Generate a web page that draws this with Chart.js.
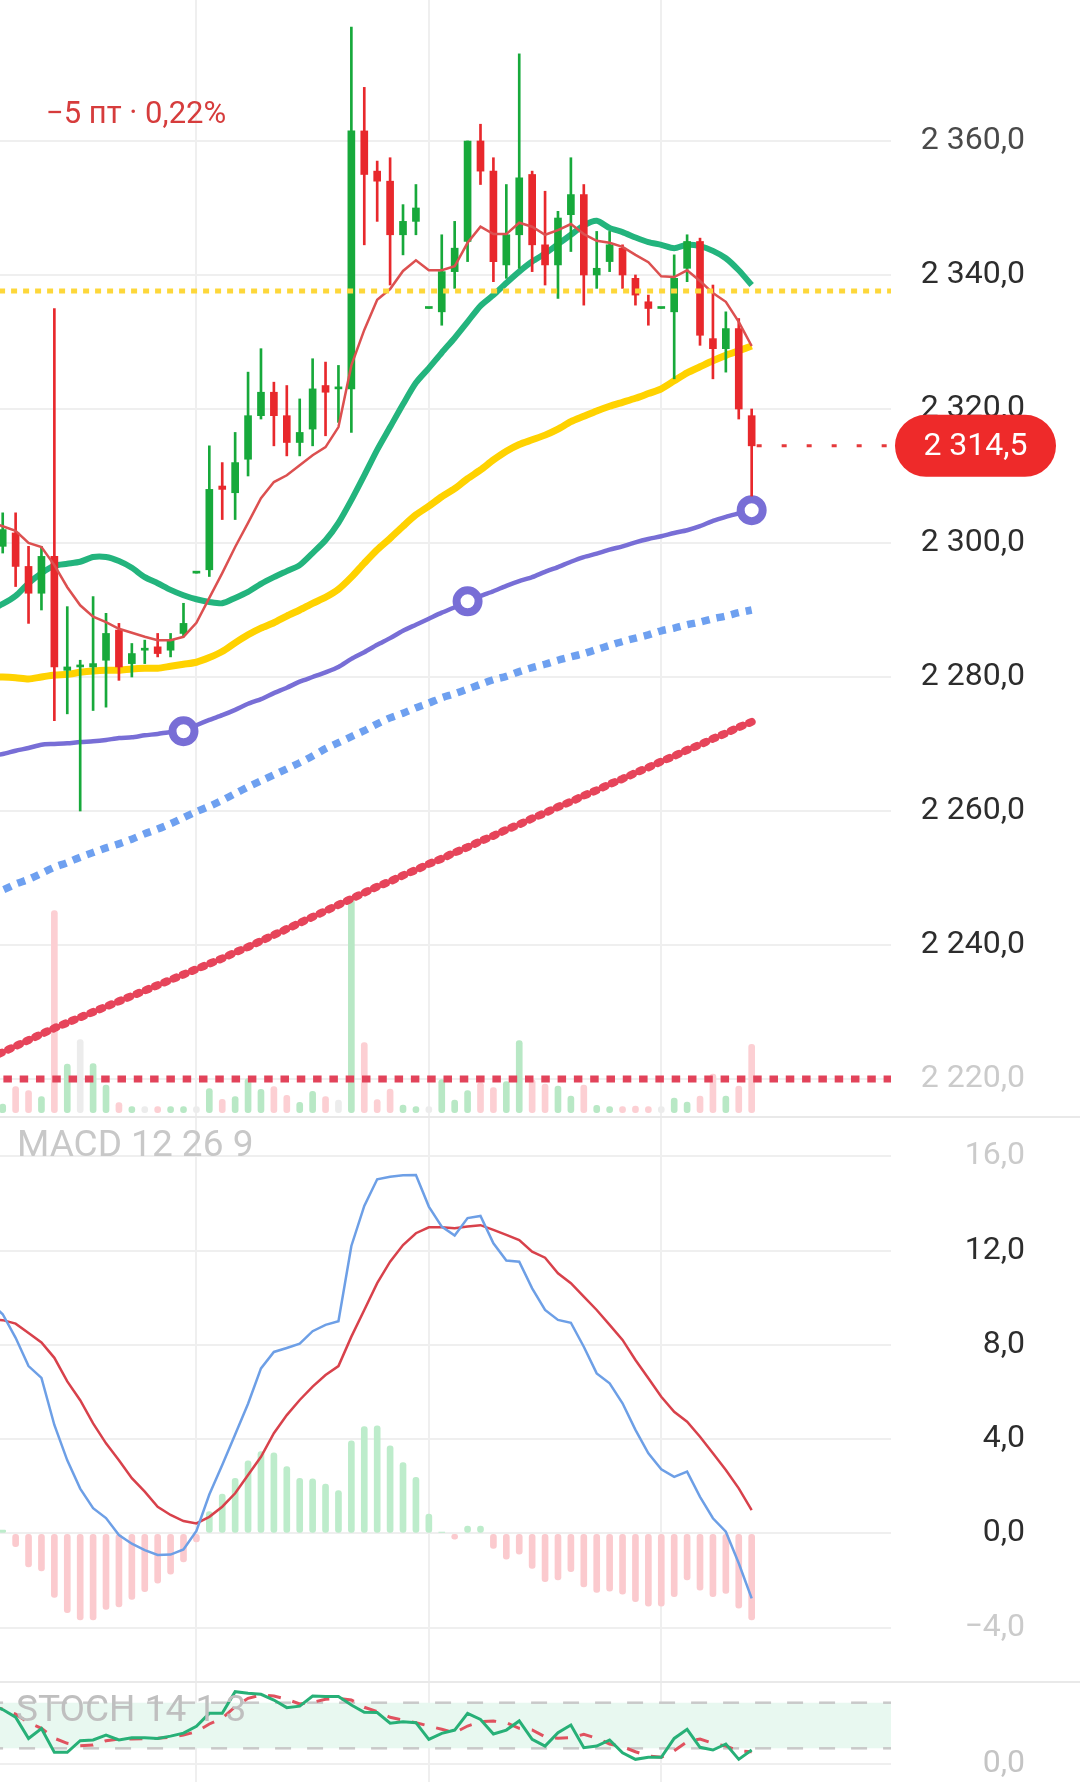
<!DOCTYPE html>
<html lang="ru">
<head>
<meta charset="utf-8">
<title>Фьючерс — свечи, MACD, STOCH</title>
<script src="https://cdn.jsdelivr.net/npm/chart.js@4.4.1/dist/chart.umd.min.js"></script>
<style>
  html, body { margin: 0; padding: 0; background: #fff; }
  body { position: relative; width: 1080px; height: 1782px; overflow: hidden; font-family: Roboto, sans-serif; }
  .pane { position: absolute; left: 0; width: 1080px; }
  .sep { position: absolute; left: 0; width: 1080px; height: 2px; background: #e9e9e9; }
  .tag { position: absolute; white-space: nowrap; pointer-events: none; }
</style>
</head>
<body>
<div class="pane" style="top:0;height:1117px"><canvas id="priceChart"></canvas></div>
<div class="sep" style="top:1116px"></div>
<div class="pane" style="top:1118px;height:564px"><canvas id="macdChart"></canvas></div>
<div class="sep" style="top:1681px"></div>
<div class="pane" style="top:1683px;height:99px"><canvas id="stochChart"></canvas></div>

<div class="tag" style="left:46px;top:94px;font-size:31px;line-height:38px;color:#d63c3c">−5 пт · 0,22%</div>
<div class="tag" style="left:17px;top:1124px;font-size:37px;line-height:40px;color:#c8c8c8">MACD 12 26 9</div>
<div class="tag" style="left:16px;top:1689px;font-size:37px;line-height:40px;color:#bfbfbf">STOCH 14 1 3</div>

<script>
// ---- candles, index 0 = first bar at the left edge
const opens  = [2299.5, 2301.5, 2296.5, 2292.5, 2298.0, 2281.0, 2281.5, 2281.5, 2282.5, 2287.0,
                2282.0, 2284.0, 2284.5, 2284.0, 2286.5, 2295.5, 2296.0, 2308.5, 2307.5, 2312.5,
                2319.0, 2322.5, 2319.0, 2315.0, 2317.0, 2323.5, 2323.0, 2323.0, 2361.5, 2355.5,
                2354.0, 2346.0, 2348.0, 2335.0, 2334.5, 2340.5, 2345.0, 2360.0, 2355.5, 2341.5,
                2346.0, 2355.0, 2344.5, 2341.5, 2349.0, 2352.0, 2340.0, 2342.0, 2344.0, 2339.5,
                2336.0, 2335.0, 2334.5, 2341.0, 2345.0, 2330.5, 2329.0, 2332.0, 2319.0];
const highs  = [2304.5, 2304.5, 2299.5, 2299.5, 2335.0, 2290.5, 2282.5, 2292.0, 2289.5, 2288.0,
                2285.0, 2285.5, 2286.5, 2286.5, 2291.0, 2295.5, 2314.5, 2312.0, 2316.5, 2325.5,
                2329.0, 2324.0, 2323.5, 2321.5, 2327.5, 2327.0, 2326.5, 2377.0, 2368.0, 2357.0,
                2357.5, 2350.5, 2353.5, 2335.0, 2346.0, 2348.0, 2360.0, 2362.5, 2357.5, 2353.5,
                2373.0, 2355.5, 2352.5, 2349.5, 2357.5, 2353.5, 2346.5, 2346.5, 2344.5, 2340.0,
                2337.0, 2335.0, 2343.0, 2346.0, 2345.5, 2338.5, 2334.5, 2333.5, 2320.0];
const lows   = [2298.5, 2293.5, 2288.0, 2290.0, 2273.5, 2274.5, 2260.0, 2275.0, 2275.5, 2279.5,
                2280.0, 2282.0, 2283.0, 2283.0, 2286.0, 2295.5, 2295.0, 2303.5, 2303.5, 2310.0,
                2318.5, 2314.5, 2313.0, 2313.0, 2314.5, 2316.0, 2318.0, 2316.5, 2344.5, 2348.0,
                2338.5, 2343.0, 2346.0, 2335.0, 2332.5, 2338.0, 2342.0, 2353.5, 2339.0, 2339.5,
                2341.0, 2340.5, 2338.5, 2336.5, 2343.5, 2335.5, 2338.0, 2340.5, 2338.0, 2335.5,
                2332.5, 2335.0, 2324.5, 2339.0, 2329.5, 2324.5, 2325.5, 2318.5, 2307.0];
const closes = [2302.0, 2296.5, 2292.5, 2298.0, 2281.5, 2281.5, 2281.5, 2282.0, 2286.5, 2281.5,
                2283.5, 2284.0, 2283.5, 2285.5, 2288.0, 2295.5, 2308.0, 2308.0, 2312.0, 2319.0,
                2322.5, 2319.0, 2315.0, 2316.5, 2323.0, 2322.5, 2323.0, 2361.5, 2355.0, 2354.0,
                2346.0, 2348.0, 2350.0, 2335.0, 2340.5, 2344.0, 2360.0, 2355.5, 2342.0, 2346.0,
                2354.5, 2344.5, 2341.5, 2348.5, 2352.0, 2340.0, 2341.0, 2344.5, 2340.0, 2337.0,
                2335.0, 2335.0, 2339.5, 2345.0, 2331.0, 2329.0, 2332.0, 2320.0, 2314.5];
const volumes = [4.3, 13, 11, 8, 101, 24.3, 36.5, 24.5, 13.8, 5,
                 2.5, 2, 1.6, 1.6, 2.5, 0.3, 12, 6.7, 8, 17,
                 11.7, 13, 8.7, 5.2, 10.7, 8, 6.3, 106.8, 35, 6.5,
                 11.8, 3.8, 2.8, 0.5, 16.5, 6.3, 11, 15, 12.5, 15.5,
                 36, 16.5, 14.3, 13.3, 8.3, 13.8, 3.7, 2, 1.7, 3.3,
                 2, 0.3, 7.3, 5.3, 8.3, 19.3, 8.3, 13.3, 34.2];

// ---- moving averages; first value belongs to the bar just off the left edge (index -1)
const maFast = [2303.1, 2302.5, 2301.8, 2300.0, 2299.4, 2296.7, 2293.4, 2290.7, 2289.0, 2288.2, 2287.2,
                2286.6, 2286.0, 2285.5, 2285.5, 2286.0, 2288.1, 2291.8, 2295.5, 2299.4, 2303.0,
                2306.7, 2309.1, 2310.1, 2311.6, 2313.1, 2314.3, 2317.3, 2326.5, 2331.8, 2336.3,
                2337.9, 2340.6, 2342.2, 2340.7, 2340.7, 2341.3, 2344.8, 2347.2, 2346.1, 2346.1,
                2347.8, 2347.2, 2346.0, 2346.7, 2347.6, 2346.1, 2345.1, 2344.8, 2344.2, 2343.0,
                2341.9, 2339.8, 2339.7, 2340.7, 2339.1, 2337.3, 2336.0, 2333.0, 2329.4];
const maGreen = [2290.0, 2290.9, 2292.1, 2294.0, 2295.5, 2296.6, 2296.9, 2297.2, 2297.9, 2297.9, 2297.3,
                 2296.3, 2294.9, 2294.0, 2293.0, 2292.2, 2291.6, 2291.2, 2291.0, 2291.8, 2292.7,
                 2293.9, 2294.9, 2295.8, 2296.7, 2298.5, 2300.4, 2303.0, 2306.4, 2310.1, 2313.9,
                 2317.3, 2320.7, 2323.9, 2326.1, 2328.4, 2330.6, 2333.0, 2335.4, 2337.0, 2338.8,
                 2340.5, 2342.0, 2343.2, 2344.6, 2346.0, 2347.4, 2348.1, 2347.0, 2346.4, 2345.6,
                 2344.9, 2344.5, 2344.0, 2344.5, 2344.3, 2343.6, 2342.5, 2340.7, 2338.5];
const maYellow = [2280.0, 2280.0, 2279.9, 2279.7, 2280.0, 2280.3, 2280.4, 2280.7, 2280.9, 2281.0, 2281.0,
                  2281.2, 2281.3, 2281.3, 2281.6, 2281.9, 2282.2, 2282.9, 2283.8, 2285.1, 2286.3,
                  2287.3, 2288.1, 2289.1, 2290.0, 2291.0, 2291.9, 2293.1, 2294.9, 2297.0, 2299.0,
                  2300.7, 2302.5, 2304.2, 2305.5, 2306.9, 2308.1, 2309.6, 2310.9, 2312.4, 2313.7,
                  2314.7, 2315.4, 2316.1, 2317.0, 2318.1, 2318.9, 2319.7, 2320.4, 2321.0, 2321.6,
                  2322.3, 2323.0, 2324.2, 2325.4, 2326.3, 2327.2, 2328.0, 2328.7, 2329.4];
const maPurple = [2268.2, 2268.5, 2269.0, 2269.4, 2269.9, 2270.0, 2270.1, 2270.3, 2270.4, 2270.6, 2270.9,
                  2271.0, 2271.3, 2271.5, 2271.8, 2271.9, 2272.8, 2273.6, 2274.3, 2275.1, 2276.0,
                  2276.7, 2277.6, 2278.4, 2279.3, 2280.0, 2280.7, 2281.5, 2282.7, 2283.7, 2284.8,
                  2285.8, 2286.9, 2287.8, 2288.7, 2289.6, 2290.4, 2291.3, 2292.1, 2292.8, 2293.6,
                  2294.3, 2294.9, 2295.7, 2296.4, 2297.2, 2297.9, 2298.4, 2299.0, 2299.5, 2300.1,
                  2300.6, 2301.0, 2301.5, 2301.9, 2302.5, 2303.3, 2303.9, 2304.4, 2304.9];
const purpleMarks = [14, 36, 58];
const maBlue = [2247.5, 2248.2, 2249.1, 2249.8, 2250.7, 2251.6, 2252.3, 2253.1, 2253.8, 2254.5, 2255.1,
                2255.8, 2256.6, 2257.3, 2258.1, 2259.0, 2259.9, 2260.7, 2261.6, 2262.6, 2263.6,
                2264.5, 2265.4, 2266.3, 2267.2, 2268.2, 2269.3, 2270.2, 2271.1, 2272.0, 2273.0,
                2273.9, 2274.6, 2275.4, 2276.1, 2276.9, 2277.5, 2278.2, 2278.9, 2279.6, 2280.1,
                2280.8, 2281.4, 2281.9, 2282.5, 2283.0, 2283.5, 2284.1, 2284.7, 2285.3, 2285.8,
                2286.3, 2286.9, 2287.3, 2287.8, 2288.2, 2288.7, 2289.1, 2289.6, 2290.0];
const maRed = [2223.2, 2224.0, 2224.9, 2225.8, 2226.7, 2227.6, 2228.4, 2229.2, 2230.0, 2230.8, 2231.6,
               2232.4, 2233.2, 2234.0, 2234.8, 2235.6, 2236.4, 2237.2, 2238.0, 2238.9, 2239.7,
               2240.6, 2241.5, 2242.4, 2243.3, 2244.2, 2245.1, 2246.0, 2246.9, 2247.8, 2248.7,
               2249.5, 2250.4, 2251.2, 2252.1, 2252.9, 2253.8, 2254.6, 2255.5, 2256.3, 2257.2,
               2258.0, 2258.9, 2259.7, 2260.6, 2261.4, 2262.3, 2263.1, 2264.0, 2264.8, 2265.7,
               2266.5, 2267.4, 2268.2, 2269.1, 2269.9, 2270.8, 2271.6, 2272.5, 2273.3];

const levelYellow = 2337.6;
const levelRed = 2220.0;
const priceTicks = [2220, 2240, 2260, 2280, 2300, 2320, 2340, 2360];
const priceRange = [2214.33, 2381.04];
const volRange = [-2.15, 556.35];

// ---- MACD 12 26 9 (lines start at index -1, histogram at index 0)
const macdLine = [9.8, 9.3, 8.3, 7.1, 6.6, 4.6, 3.1, 1.9, 1.07, 0.65, -0.07,
                  -0.44, -0.71, -0.92, -0.9, -0.68, 0.1, 1.65, 2.9, 4.2, 5.5,
                  7.0, 7.7, 7.87, 8.05, 8.58, 8.85, 9.0, 12.2, 13.9, 15.03,
                  15.14, 15.2, 15.21, 13.87, 13.02, 12.64, 13.38, 13.47, 12.31, 11.58,
                  11.53, 10.4, 9.48, 9.06, 8.94, 7.92, 6.79, 6.37, 5.52, 4.39,
                  3.4, 2.72, 2.4, 2.62, 1.55, 0.64, 0.07, -1.27, -2.76];
const signalLine = [9.1, 9.05, 8.9, 8.5, 8.1, 7.45, 6.45, 5.65, 4.67, 3.82, 3.1,
                    2.34, 1.77, 1.13, 0.78, 0.52, 0.42, 0.7, 1.13, 1.7, 2.48,
                    3.25, 4.25, 5.02, 5.66, 6.23, 6.72, 7.1, 8.35, 9.48, 10.62,
                    11.53, 12.24, 12.74, 12.99, 12.99, 12.95, 13.02, 13.08, 12.88, 12.67,
                    12.45, 11.96, 11.7, 11.04, 10.62, 10.05, 9.48, 8.85, 8.21, 7.36,
                    6.58, 5.8, 5.16, 4.74, 4.1, 3.4, 2.69, 1.91, 0.99];
const macdHist = [0.14, -0.57, -1.42, -1.59, -2.72, -3.37, -3.68, -3.68, -3.23, -3.12,
                  -2.80, -2.48, -2.12, -1.73, -1.21, -0.36, 0.92, 1.67, 2.34, 3.08,
                  3.47, 3.42, 2.83, 2.34, 2.31, 2.09, 1.81, 3.93, 4.53, 4.56,
                  3.71, 3.00, 2.38, 0.82, 0.05, -0.25, 0.31, 0.31, -0.64, -1.10,
                  -0.88, -1.49, -2.05, -1.98, -1.63, -2.27, -2.51, -2.45, -2.58, -2.90,
                  -3.09, -3.09, -2.69, -1.98, -2.41, -2.69, -2.55, -3.18, -3.68];
const macdTicks = [-4, 0, 4, 8, 12, 16];
const macdRange = [-6.31, 17.63];

// ---- STOCH 14 1 3 (start at index -1)
const stochK = [78, 71, 61, 33, 46, 14.7, 14.7, 30, 31, 37.5, 31,
                34, 34, 33, 36, 40, 49, 66, 66, 94.5, 92.5,
                91, 83.5, 73.5, 75.5, 88.8, 88, 88, 77, 67.5, 67,
                53, 55, 53.7, 31.8, 39.7, 44, 66, 58, 38.8, 44,
                56, 31.8, 23, 40.5, 50.7, 20.8, 23, 31, 14.2, 5.5,
                8.2, 8.2, 33, 45, 21.3, 17.8, 25.7, 5.5, 17.8];
const stochD = [75, 71.7, 65.1, 53.7, 46.3, 33.2, 26.6, 23.4, 24.3, 30, 32.2,
                32.2, 32.6, 33.2, 34.5, 37.5, 41.8, 52, 59.5, 74.7, 85.8,
                90.1, 88.8, 84.5, 78.3, 80.5, 84.5, 85.8, 83.6, 74, 68.2,
                60.8, 57.2, 53.7, 49.3, 45, 40.5, 49.3, 55, 55.9, 53.7,
                46.3, 44.1, 35.3, 33.2, 33.9, 38.4, 33.2, 25.7, 22.1, 15.5,
                9.9, 8.2, 16.8, 28.7, 32.2, 26.6, 23, 16.8, 15.5];
const stochBand = [20, 80];
const stochTicks = [0];
const stochRange = [-24.3, 105.9];

const timeGrid = [15, 33, 51];
const xRange = [-0.21, 68.79];

// ---- layout: plot area 0..891, tick labels end at 1025
const PLOT_RIGHT = 891;
const LABEL_RIGHT = 1025;
const RIGHT_GAP = 1080 - LABEL_RIGHT;
const AXIS_W = LABEL_RIGHT - PLOT_RIGHT;
const TICK_SIZE = 32;

Chart.defaults.font.family = 'Roboto';

const fmt = v => {
  const [i, d] = Math.abs(v).toFixed(1).split('.');
  return (v < 0 ? '−' : '') + i.replace(/\B(?=(\d{3})+(?!\d))/g, ' ') + ',' + d;
};
const pts = (arr, start) => arr.map((y, k) => ({x: start + k, y}));
const span = y => [{x: xRange[0] - 1, y}, {x: xRange[1] + 1, y}];

function farPad(ticks) {
  const c = document.createElement('canvas').getContext('2d');
  c.font = TICK_SIZE + 'px Roboto';
  const widest = Math.max(...ticks.map(v => c.measureText(fmt(v)).width));
  return Math.max(0, AXIS_W - widest);
}

function xAxis() {
  return {
    type: 'linear', min: xRange[0], max: xRange[1], offset: false,
    ticks: {display: false},
    border: {display: false},
    grid: {color: '#efefef', lineWidth: 2, drawTicks: false, offset: false},
    afterBuildTicks: s => { s.ticks = timeGrid.map(value => ({value})); },
    afterFit: s => { s.height = 0; s.paddingLeft = 0; s.paddingRight = 0; }
  };
}

function yAxis(range, ticks, ink) {
  return {
    type: 'linear', position: 'right', min: range[0], max: range[1], beginAtZero: false,
    border: {display: false},
    grid: {color: '#efefef', lineWidth: 2, drawTicks: false},
    afterBuildTicks: s => { s.ticks = ticks.map(value => ({value})); },
    afterFit: s => { s.width = AXIS_W; s.paddingTop = 0; s.paddingBottom = 0; },
    ticks: {
      font: {size: TICK_SIZE},
      crossAlign: 'far',
      padding: farPad(ticks),
      color: c => (c.tick && ink[c.tick.value]) || '#2d2d2d',
      callback: v => fmt(v)
    }
  };
}

const common = {
  responsive: true,
  maintainAspectRatio: false,
  animation: false,
  devicePixelRatio: 1,
  events: [],
  layout: {padding: {left: 0, top: 0, bottom: 0, right: RIGHT_GAP}, autoPadding: false},
  plugins: {legend: {display: false}, tooltip: {enabled: false}}
};

const upColor = '#17a93b', downColor = '#e8282c';
const candleColors = closes.map((c, i) => c >= opens[i] ? upColor : downColor);
const volColors = closes.map((c, i) => c > opens[i] ? '#b8e8c5' : c < opens[i] ? '#fccfd3' : '#ececec');

// last price: dotted line + red pill on the axis
const lastPriceTag = {
  id: 'lastPriceTag',
  afterDraw(chart) {
    const {ctx, chartArea, scales} = chart;
    const i = closes.length - 1;
    const py = scales.y.getPixelForValue(closes[i]);
    const px = scales.x.getPixelForValue(i);
    const bx = chartArea.right + 4, bw = 161, bh = 62;
    ctx.save();
    ctx.strokeStyle = '#e5393b';
    ctx.lineWidth = 3;
    ctx.setLineDash([5, 20]);
    ctx.beginPath();
    ctx.moveTo(px + 5, py);
    ctx.lineTo(bx, py);
    ctx.stroke();
    ctx.setLineDash([]);
    ctx.fillStyle = '#ee2a2a';
    ctx.beginPath();
    ctx.roundRect(bx, py - bh / 2, bw, bh, bh / 2);
    ctx.fill();
    ctx.fillStyle = '#ffffff';
    ctx.font = TICK_SIZE + 'px Roboto';
    ctx.textAlign = 'center';
    ctx.textBaseline = 'middle';
    ctx.fillText(fmt(closes[i]), bx + bw / 2, py + 1);
    ctx.restore();
  }
};

new Chart(document.getElementById('priceChart'), {
  type: 'line',
  data: {
    datasets: [
      {data: span(levelYellow), borderColor: '#fdd73a', borderWidth: 5, borderDash: [6, 6],
       pointRadius: 0, clip: 0, order: 0},
      {data: pts(maFast, -1), borderColor: '#dc5050', borderWidth: 2.5, pointRadius: 0, order: 1},
      {type: 'bar', data: opens.map((o, i) => ({x: i, y: [o, closes[i]]})),
       backgroundColor: candleColors, barThickness: 7, minBarLength: 2, grouped: false, order: 2},
      {type: 'bar', data: lows.map((l, i) => ({x: i, y: [l, highs[i]]})),
       backgroundColor: candleColors, barThickness: 2, grouped: false, order: 3},
      {data: pts(maGreen, -1), borderColor: '#23b47d', borderWidth: 6, pointRadius: 0, tension: 0.25, order: 4},
      {data: pts(maYellow, -1), borderColor: '#ffd200', borderWidth: 7, pointRadius: 0, tension: 0.25, order: 5},
      {data: pts(maPurple, -1), borderColor: '#786ed6', borderWidth: 4.5, tension: 0.25, order: 6,
       pointRadius: c => purpleMarks.includes(c.dataIndex - 1) ? 11 : 0,
       pointBorderWidth: 8, pointBackgroundColor: '#ffffff', pointBorderColor: '#786ed6'},
      {data: pts(maBlue, -1), borderColor: '#6ea0f0', borderWidth: 7.5, borderDash: [8, 7],
       pointRadius: 0, tension: 0.25, order: 7},
      {data: pts(maRed, -1), borderColor: '#e6445a', borderWidth: 8, borderDash: [3, 7],
       borderCapStyle: 'round', pointRadius: 0, order: 8},
      {data: span(levelRed), borderColor: '#e2435a', borderWidth: 7, borderDash: [8.5, 7.8],
       pointRadius: 0, clip: 0, order: 9},
      {type: 'bar', yAxisID: 'yVol', data: volumes.map((v, i) => ({x: i, y: v})),
       backgroundColor: volColors, barThickness: 6, borderRadius: 3, borderSkipped: false,
       minBarLength: 6, grouped: false, order: 10}
    ]
  },
  options: {
    ...common,
    scales: {
      x: xAxis(),
      y: yAxis(priceRange, priceTicks, {2360: '#4a4a4a', 2220: '#cbcbcb'}),
      yVol: {type: 'linear', display: false, min: volRange[0], max: volRange[1]}
    }
  },
  plugins: [lastPriceTag]
});

new Chart(document.getElementById('macdChart'), {
  type: 'line',
  data: {
    datasets: [
      {data: pts(macdLine, -1), borderColor: '#6d9fe6', borderWidth: 2.5, pointRadius: 0, order: 1},
      {data: pts(signalLine, -1), borderColor: '#d8414b', borderWidth: 2.5, pointRadius: 0, order: 2},
      {type: 'bar', data: macdHist.map((v, i) => ({x: i, y: v})),
       backgroundColor: macdHist.map(v => v >= 0 ? '#bdeccb' : '#fbcace'),
       barThickness: 6, borderRadius: 3, borderSkipped: false, grouped: false, order: 3}
    ]
  },
  options: {
    ...common,
    scales: {
      x: xAxis(),
      y: yAxis(macdRange, macdTicks, {16: '#cbcbcb', '-4': '#cbcbcb'})
    }
  }
});

new Chart(document.getElementById('stochChart'), {
  type: 'line',
  data: {
    datasets: [
      {data: span(stochBand[1]), borderColor: '#c9c9c9', borderWidth: 2.5, borderDash: [16, 16],
       pointRadius: 0, clip: 0, fill: 1, backgroundColor: '#e8f8f0', order: 4},
      {data: span(stochBand[0]), borderColor: '#c9c9c9', borderWidth: 2.5, borderDash: [16, 16],
       pointRadius: 0, clip: 0, order: 3},
      {data: pts(stochD, -1), borderColor: '#e0525f', borderWidth: 3, borderDash: [13, 12],
       pointRadius: 0, order: 2},
      {data: pts(stochK, -1), borderColor: '#27b077', borderWidth: 3, pointRadius: 0, order: 1}
    ]
  },
  options: {
    ...common,
    scales: {
      x: xAxis(),
      y: yAxis(stochRange, stochTicks, {0: '#c4c4c4'})
    }
  }
});
</script>
</body>
</html>
